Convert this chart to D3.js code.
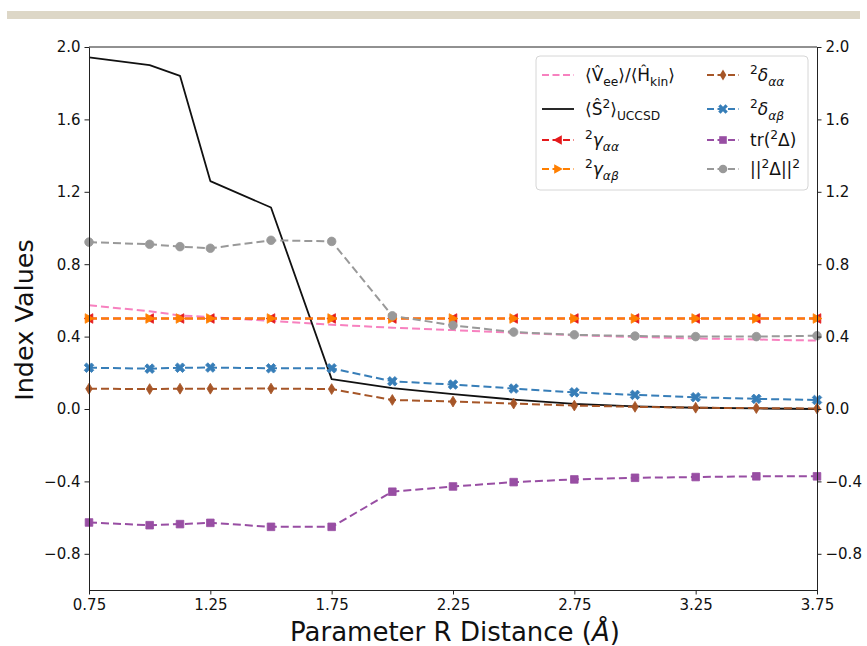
<!DOCTYPE html>
<html>
<head>
<meta charset="utf-8">
<script src="https://cdn.jsdelivr.net/npm/d3@7"></script>
<style>
  body { margin: 0; background: #fff; }
  svg { display: block; }
  text { font-family: "DejaVu Sans", sans-serif; fill: #111; }
</style>
</head>
<body>
<svg id="chart" width="867" height="646"></svg>
<script>
// Bond distance grid (Å)
const distances = [0.75, 1.0, 1.125, 1.25, 1.5, 1.75, 2.0, 2.25, 2.5, 2.75, 3.0, 3.25, 3.5, 3.75];

// Index values per distance
const veeOverHkin = [0.573, 0.540, 0.517, 0.508, 0.486, 0.466, 0.449, 0.436, 0.421, 0.408, 0.398, 0.390, 0.384, 0.378];
const s2Uccsd     = [1.943, 1.900, 1.841, 1.259, 1.113, 0.165, 0.115, 0.082, 0.052, 0.028, 0.015, 0.007, 0.003, 0.000];
const gammaAA     = [0.5, 0.5, 0.5, 0.5, 0.5, 0.5, 0.5, 0.5, 0.5, 0.5, 0.5, 0.5, 0.5, 0.5];
const gammaAB     = [0.5, 0.5, 0.5, 0.5, 0.5, 0.5, 0.5, 0.5, 0.5, 0.5, 0.5, 0.5, 0.5, 0.5];
const deltaAA     = [0.112, 0.110, 0.112, 0.112, 0.113, 0.110, 0.050, 0.041, 0.030, 0.019, 0.012, 0.007, 0.005, 0.003];
const deltaAB     = [0.228, 0.223, 0.228, 0.229, 0.225, 0.225, 0.153, 0.135, 0.113, 0.092, 0.078, 0.065, 0.056, 0.050];
const traceDelta  = [-0.627, -0.642, -0.636, -0.629, -0.651, -0.651, -0.457, -0.428, -0.404, -0.389, -0.380, -0.376, -0.372, -0.372];
const normDelta   = [0.922, 0.910, 0.897, 0.888, 0.932, 0.926, 0.515, 0.462, 0.425, 0.410, 0.403, 0.400, 0.400, 0.405];

// Axis ticks
const xTicks = [0.75, 1.25, 1.75, 2.25, 2.75, 3.25, 3.75];
const yTicks = [-0.8, -0.4, 0.0, 0.4, 0.8, 1.2, 1.6, 2.0];

// Legend labels as rich-text segments: s = sub / sup; i = italic
const labels = {
  vee:  [{t:"⟨V̂"}, {t:"ee", s:"sub"}, {t:"⟩/⟨Ĥ"}, {t:"kin", s:"sub"}, {t:"⟩"}],
  s2:   [{t:"⟨Ŝ"}, {t:"2", s:"sup"}, {t:"⟩"}, {t:"UCCSD", s:"sub"}],
  gaa:  [{t:"2", s:"sup"}, {t:"γ", i:1}, {t:"αα", s:"sub", i:1}],
  gab:  [{t:"2", s:"sup"}, {t:"γ", i:1}, {t:"αβ", s:"sub", i:1}],
  daa:  [{t:"2", s:"sup"}, {t:"δ", i:1}, {t:"αα", s:"sub", i:1}],
  dab:  [{t:"2", s:"sup"}, {t:"δ", i:1}, {t:"αβ", s:"sub", i:1}],
  tr:   [{t:"tr("}, {t:"2", s:"sup"}, {t:"Δ)"}],
  norm: [{t:"||"}, {t:"2", s:"sup"}, {t:"Δ||"}, {t:"2", s:"sup"}]
};

const series = [
  {key:"vee",  values: veeOverHkin, color:"#f781bf", dash:"8,4", marker:null,     width:2},
  {key:"s2",   values: s2Uccsd,     color:"#111111", dash:null,  marker:null,     width:1.8},
  {key:"gaa",  values: gammaAA,     color:"#e41a1c", dash:"8,4", marker:"tleft",  width:2},
  {key:"gab",  values: gammaAB,     color:"#ff7f00", dash:"8,4", marker:"tright", width:2},
  {key:"daa",  values: deltaAA,     color:"#a65628", dash:"8,4", marker:"diamond",width:2},
  {key:"dab",  values: deltaAB,     color:"#377eb8", dash:"8,4", marker:"x",      width:2},
  {key:"tr",   values: traceDelta,  color:"#984ea3", dash:"8,4", marker:"square", width:2},
  {key:"norm", values: normDelta,   color:"#999999", dash:"8,4", marker:"circle", width:2}
];

const svg = d3.select("#chart");

// decorative header band
svg.append("rect").attr("x", 7).attr("y", 11).attr("width", 853).attr("height", 8).attr("fill", "#ddd7c7");

const frame = { left: 89, right: 817, top: 47, bottom: 590 };
const x = d3.scaleLinear().domain([0.75, 3.75]).range([frame.left, frame.right]);
const y = d3.scaleLinear().domain([-1.0, 2.0]).range([frame.bottom, frame.top]);

// marker shapes centred at origin
function markerPath(type) {
  const p = d3.path();
  if (type === "circle") { p.arc(0, 0, 4.3, 0, 2 * Math.PI); }
  else if (type === "square") { p.rect(-3.8, -3.8, 7.6, 7.6); }
  else if (type === "diamond") { p.moveTo(0, -5.4); p.lineTo(3.3, 0); p.lineTo(0, 5.4); p.lineTo(-3.3, 0); p.closePath(); }
  else if (type === "tleft") { p.moveTo(-4.8, 0); p.lineTo(3.8, -4.8); p.lineTo(3.8, 4.8); p.closePath(); }
  else if (type === "tright") { p.moveTo(4.8, 0); p.lineTo(-3.8, -4.8); p.lineTo(-3.8, 4.8); p.closePath(); }
  else if (type === "x") {
    const a = 4.8, w = 2.3;
    const pts = [[-a+w,-a],[0,-w],[a-w,-a],[a,-a+w],[w,0],[a,a-w],[a-w,a],[0,w],[-a+w,a],[-a,a-w],[-w,0],[-a,-a+w]];
    p.moveTo(pts[0][0], pts[0][1]);
    pts.slice(1).forEach(q => p.lineTo(q[0], q[1]));
    p.closePath();
  }
  return p.toString();
}

const plot = svg.append("g");
const line = d3.line().x(d => x(d[0])).y(d => y(d[1]));

series.forEach(s => {
  const pts = distances.map((d, i) => [d, s.values[i]]);
  plot.append("path")
    .attr("d", line(pts))
    .attr("fill", "none")
    .attr("stroke", s.color)
    .attr("stroke-width", s.width)
    .attr("stroke-dasharray", s.dash)
    .attr("stroke-linejoin", "round");
  if (s.marker) {
    plot.append("g").selectAll("path").data(pts).join("path")
      .attr("transform", d => `translate(${x(d[0])},${y(d[1])})`)
      .attr("d", markerPath(s.marker))
      .attr("fill", s.color)
      .attr("stroke", s.color)
      .attr("stroke-width", 0.8);
  }
});

// axes
const yFmt = d3.format(".1f");
const axisStyle = g => {
  g.select(".domain").attr("stroke", "#222").attr("stroke-width", 1);
  g.selectAll(".tick line").attr("stroke", "#222").attr("stroke-width", 1);
  g.selectAll(".tick text").attr("font-size", 15).attr("fill", "#111").style("font-family", '"DejaVu Sans", sans-serif');
};
svg.append("g").attr("transform", `translate(${frame.left},0)`)
  .call(d3.axisLeft(y).tickValues(yTicks).tickFormat(yFmt).tickSize(4.5).tickPadding(4).tickSizeOuter(0))
  .call(axisStyle);
svg.append("g").attr("transform", `translate(${frame.right},0)`)
  .call(d3.axisRight(y).tickValues(yTicks).tickFormat(yFmt).tickSize(4.5).tickPadding(4).tickSizeOuter(0))
  .call(axisStyle);
svg.append("g").attr("transform", `translate(0,${frame.bottom})`)
  .call(d3.axisBottom(x).tickValues(xTicks).tickFormat(d3.format(".2f")).tickSize(4.5).tickPadding(5).tickSizeOuter(0))
  .call(axisStyle);
svg.append("line").attr("x1", frame.left).attr("x2", frame.right).attr("y1", frame.top).attr("y2", frame.top)
  .attr("stroke", "#222").attr("stroke-width", 1);

// axis titles
svg.append("text").attr("x", 455).attr("y", 641).attr("text-anchor", "middle").attr("font-size", 26)
  .text("Parameter R Distance (")
  .call(t => { t.append("tspan").attr("font-style", "italic").text("Å"); t.append("tspan").text(")"); });
svg.append("text").attr("transform", "translate(33,320) rotate(-90)").attr("text-anchor", "middle")
  .attr("font-size", 25.5).text("Index Values");

// legend
function richText(g, segs, fs) {
  const t = g.append("text").attr("font-size", fs);
  const shift = { "1": 0.32 * fs, "-1": -0.42 * fs, "0": 0 };
  let level = 0;
  segs.forEach(sg => {
    const target = sg.s === "sub" ? 1 : sg.s === "sup" ? -1 : 0;
    const dy = shift[target] - shift[level];
    level = target;
    const ts = t.append("tspan").text(sg.t).attr("dy", dy);
    if (target !== 0) ts.attr("font-size", fs * 0.72);
    if (sg.i) ts.attr("font-style", "italic");
  });
  return t;
}

const legend = svg.append("g");
legend.append("rect").attr("x", 536).attr("y", 56).attr("width", 272).attr("height", 134)
  .attr("rx", 4).attr("fill", "#fff").attr("fill-opacity", 0.85)
  .attr("stroke", "#d6d6d6").attr("stroke-width", 1);
const rowY = [75, 109, 140, 169];
const colX = [542, 707];
series.forEach((s, i) => {
  const col = Math.floor(i / 4), row = i % 4;
  const g = legend.append("g").attr("transform", `translate(${colX[col]},${rowY[row]})`);
  g.append("line").attr("x1", 0).attr("x2", 32).attr("y1", 0).attr("y2", 0)
    .attr("stroke", s.color).attr("stroke-width", s.width).attr("stroke-dasharray", s.dash ? "7,3.5" : null);
  if (s.marker) g.append("path").attr("transform", "translate(16,0)").attr("d", markerPath(s.marker)).attr("fill", s.color);
  const tg = g.append("g").attr("transform", "translate(43,6)");
  richText(tg, labels[s.key], 17);
});
</script>
</body>
</html>
